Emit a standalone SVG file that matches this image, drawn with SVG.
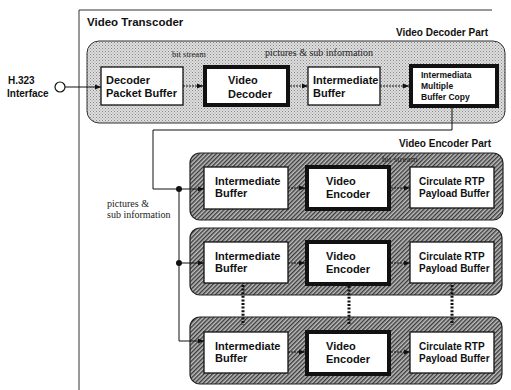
<svg xmlns="http://www.w3.org/2000/svg" width="511" height="390" viewBox="0 0 511 390">
  <style>
    .lbl { font-family: "Liberation Sans", Arial, sans-serif; font-weight: bold; fill: #111; }
    .note { font-family: "Liberation Serif", "Times New Roman", serif; fill: #222; }
    .box { fill: #fff; stroke: #111; stroke-width: 1.3; }
    .thick { fill: #fff; stroke: #111; stroke-width: 4; }
    .wire { fill: none; stroke: #111; stroke-width: 1; }
    .flow { fill: none; stroke: #111; stroke-width: 1.2; stroke-dasharray: 2 1; }
    .dots { fill: none; stroke: #111; stroke-width: 3; stroke-dasharray: 2 1.6; }
    .dec-part { fill: url(#stipple); stroke: #333; stroke-width: 1; }
    .enc-part { fill: url(#hatch); stroke: #222; stroke-width: 1.2; }
  </style>
  <defs>
    <pattern id="stipple" width="3" height="3" patternUnits="userSpaceOnUse">
      <rect width="3" height="3" fill="#dedede"/>
      <rect x="0" y="0" width="1" height="1" fill="#888"/>
      <rect x="1.5" y="1.5" width="1" height="1" fill="#9a9a9a"/>
    </pattern>
    <pattern id="hatch" width="3" height="3" patternUnits="userSpaceOnUse" patternTransform="rotate(45)">
      <rect width="3" height="3" fill="#bdbdbd"/>
      <line x1="0.7" y1="0" x2="0.7" y2="3" stroke="#3a3a3a" stroke-width="1.4"/>
    </pattern>
    <marker id="ah" viewBox="0 0 6 6" refX="6" refY="3" markerWidth="6" markerHeight="6" markerUnits="userSpaceOnUse" orient="auto">
      <path d="M0,0.5 L6,3 L0,5.5 z" fill="#111"/>
    </marker>
  </defs>

  <rect width="511" height="390" fill="#fff"/>

  <!-- transcoder frame -->
  <g id="transcoder">
    <path d="M79,390 V10 H492" fill="none" stroke="#333" stroke-width="1"/>
    <text class="lbl" x="87" y="26" font-size="11.5">Video Transcoder</text>
  </g>

  <!-- decoder part -->
  <g id="decoder-part">
    <rect class="dec-part" x="87" y="41" width="418" height="82" rx="12"/>
    <text class="lbl" x="488" y="36" font-size="10" text-anchor="end">Video Decoder Part</text>
    <text class="note" x="172" y="57" font-size="8.5">bit stream</text>
    <text class="note" x="265" y="56" font-size="10">pictures &amp; sub information</text>
  </g>

  <g id="h323">
    <text class="lbl" x="8" y="84" font-size="10">H.323</text>
    <text class="lbl" x="7" y="97" font-size="10">Interface</text>
    <circle cx="60" cy="87" r="5" fill="#fff" stroke="#111" stroke-width="1.2"/>
  </g>

  <g id="decoder-packet-buffer">
    <rect class="box" x="101" y="67" width="82" height="38"/>
    <text class="lbl" x="106" y="84" font-size="11">Decoder</text>
    <text class="lbl" x="106" y="97" font-size="11">Packet Buffer</text>
  </g>

  <g id="video-decoder">
    <rect class="thick" x="205" y="67" width="83" height="38"/>
    <text class="lbl" x="228" y="84" font-size="11">Video</text>
    <text class="lbl" x="228" y="98" font-size="11">Decoder</text>
  </g>

  <g id="decoder-intermediate-buffer">
    <rect class="box" x="308" y="67" width="72" height="38"/>
    <text class="lbl" x="313" y="84" font-size="11">Intermediate</text>
    <text class="lbl" x="313" y="97" font-size="11">Buffer</text>
  </g>

  <g id="multiple-buffer-copy">
    <rect class="thick" x="411" y="66" width="86" height="40"/>
    <text class="lbl" x="421" y="78" font-size="8.5">Intermediata</text>
    <text class="lbl" x="421" y="89" font-size="8.5">Multiple</text>
    <text class="lbl" x="421" y="100" font-size="8.5">Buffer Copy</text>
  </g>

  <!-- encoder part -->
  <text class="lbl" x="491" y="147" font-size="10" text-anchor="end">Video Encoder Part</text>

  <g id="encoder-1">
    <rect class="enc-part" x="190" y="153" width="313" height="67" rx="10"/>
    <text class="note" x="382" y="162" font-size="9">bit stream</text>
    <rect class="box" x="204" y="167" width="84" height="42"/>
    <text class="lbl" x="215" y="185" font-size="11">Intermediate</text>
    <text class="lbl" x="215" y="197" font-size="11">Buffer</text>
    <rect class="thick" x="307" y="167" width="82" height="42"/>
    <text class="lbl" x="326" y="185" font-size="11">Video</text>
    <text class="lbl" x="326" y="198" font-size="11">Encoder</text>
    <rect class="box" x="410" y="167" width="84" height="41"/>
    <text class="lbl" x="419" y="185" font-size="10">Circulate RTP</text>
    <text class="lbl" x="419" y="197" font-size="10">Payload Buffer</text>
  </g>

  <g id="encoder-2">
    <rect class="enc-part" x="190" y="228" width="312" height="67" rx="10"/>
    <rect class="box" x="204" y="242" width="84" height="41"/>
    <text class="lbl" x="215" y="260" font-size="11">Intermediate</text>
    <text class="lbl" x="215" y="272" font-size="11">Buffer</text>
    <rect class="thick" x="307" y="242" width="82" height="42"/>
    <text class="lbl" x="326" y="260" font-size="11">Video</text>
    <text class="lbl" x="326" y="273" font-size="11">Encoder</text>
    <rect class="box" x="410" y="242" width="84" height="41"/>
    <text class="lbl" x="419" y="260" font-size="10">Circulate RTP</text>
    <text class="lbl" x="419" y="272" font-size="10">Payload Buffer</text>
  </g>

  <g id="encoder-3">
    <rect class="enc-part" x="190" y="317" width="312" height="67" rx="10"/>
    <rect class="box" x="204" y="332" width="84" height="41"/>
    <text class="lbl" x="215" y="350" font-size="11">Intermediate</text>
    <text class="lbl" x="215" y="362" font-size="11">Buffer</text>
    <rect class="thick" x="307" y="332" width="82" height="42"/>
    <text class="lbl" x="326" y="350" font-size="11">Video</text>
    <text class="lbl" x="326" y="363" font-size="11">Encoder</text>
    <rect class="box" x="410" y="332" width="84" height="41"/>
    <text class="lbl" x="419" y="350" font-size="10">Circulate RTP</text>
    <text class="lbl" x="419" y="362" font-size="10">Payload Buffer</text>
  </g>

  <text class="note" x="107" y="207" font-size="10">pictures &amp;</text>
  <text class="note" x="107" y="218" font-size="10">sub information</text>

  <!-- connectors -->
  <g id="connectors">
    <line class="wire" x1="65" y1="87" x2="101" y2="87" marker-end="url(#ah)"/>
    <line class="flow" x1="183" y1="86" x2="203" y2="86" marker-end="url(#ah)"/>
    <line class="flow" x1="290" y1="86" x2="308" y2="86" marker-end="url(#ah)"/>
    <line class="flow" x1="380" y1="86" x2="409" y2="86" marker-end="url(#ah)"/>

    <path class="wire" d="M452,108 V130 H153 V189 H204" marker-end="url(#ah)"/>
    <path class="wire" d="M179,189 V341 H204" marker-end="url(#ah)"/>
    <line class="wire" x1="179" y1="263" x2="204" y2="263" marker-end="url(#ah)"/>
    <circle cx="179" cy="189" r="3" fill="#111"/>
    <circle cx="179" cy="263" r="3" fill="#111"/>

    <line class="flow" x1="288" y1="188" x2="305" y2="188" marker-end="url(#ah)"/>
    <line class="flow" x1="391" y1="188" x2="410" y2="188" marker-end="url(#ah)"/>
    <line class="flow" x1="288" y1="263" x2="305" y2="263" marker-end="url(#ah)"/>
    <line class="flow" x1="391" y1="263" x2="410" y2="263" marker-end="url(#ah)"/>
    <line class="flow" x1="288" y1="352" x2="305" y2="352" marker-end="url(#ah)"/>
    <line class="flow" x1="391" y1="352" x2="410" y2="352" marker-end="url(#ah)"/>

    <line class="dots" x1="243" y1="285" x2="243" y2="325"/>
    <line class="dots" x1="349" y1="286" x2="349" y2="325"/>
    <line class="dots" x1="452" y1="285" x2="452" y2="325"/>
  </g>
</svg>
